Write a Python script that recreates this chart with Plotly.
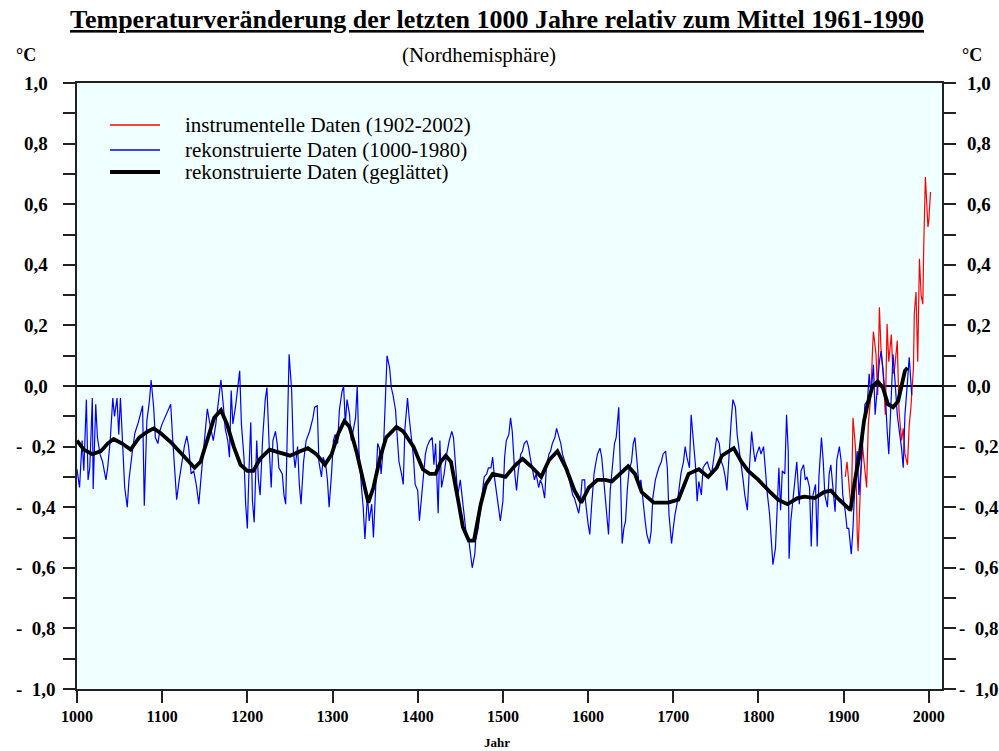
import plotly.graph_objects as go

# Rekonstruierte Temperaturanomalien (Nordhemisphäre), 1000-1980
recon_years = [
    1000, 1003, 1006, 1008, 1011, 1013, 1015, 1018, 1019, 1022, 1024, 1027, 1030, 1034, 1036, 1039,
    1042, 1044, 1047, 1049, 1051, 1054, 1056, 1059, 1061, 1065, 1068, 1072, 1075, 1077, 1079, 1082,
    1085, 1087, 1090, 1092, 1095, 1097, 1100, 1104, 1108, 1110, 1112, 1115, 1117, 1120, 1122, 1126,
    1129, 1131, 1134, 1137, 1140, 1143, 1146, 1150, 1153, 1156, 1160, 1163, 1167, 1169, 1172, 1174,
    1177, 1179, 1181, 1183, 1186, 1188, 1191, 1193, 1196, 1198, 1200, 1202, 1204, 1206, 1208, 1211,
    1213, 1215, 1218, 1221, 1223, 1226, 1228, 1230, 1233, 1235, 1237, 1241, 1243, 1245, 1248, 1249,
    1252, 1254, 1256, 1259, 1261, 1263, 1266, 1269, 1273, 1277, 1279, 1282, 1284, 1287, 1289, 1292,
    1294, 1296, 1299, 1301, 1303, 1306, 1308, 1311, 1313, 1315, 1317, 1320, 1322, 1324, 1327, 1329,
    1331, 1334, 1336, 1338, 1341, 1343, 1346, 1348, 1350, 1353, 1355, 1357, 1360, 1362, 1364, 1367,
    1369, 1371, 1374, 1376, 1378, 1381, 1383, 1385, 1388, 1390, 1392, 1395, 1397, 1400, 1402, 1404,
    1407, 1409, 1411, 1414, 1417, 1419, 1421, 1424, 1426, 1428, 1431, 1434, 1437, 1440, 1442, 1445,
    1447, 1450, 1453, 1455, 1457, 1460, 1462, 1464, 1467, 1468, 1471, 1473, 1475, 1478, 1481, 1483,
    1486, 1488, 1490, 1493, 1495, 1497, 1500, 1502, 1504, 1507, 1509, 1511, 1514, 1516, 1518, 1521,
    1523, 1525, 1528, 1530, 1532, 1535, 1537, 1539, 1542, 1544, 1546, 1549, 1551, 1554, 1556, 1558,
    1561, 1563, 1565, 1568, 1570, 1572, 1575, 1577, 1579, 1582, 1584, 1586, 1589, 1591, 1593, 1596,
    1597, 1600, 1602, 1604, 1607, 1609, 1611, 1614, 1616, 1619, 1622, 1624, 1626, 1629, 1631, 1633,
    1636, 1638, 1640, 1642, 1644, 1646, 1648, 1651, 1653, 1655, 1658, 1660, 1662, 1665, 1667, 1669,
    1672, 1674, 1676, 1679, 1681, 1683, 1686, 1688, 1691, 1693, 1695, 1698, 1700, 1702, 1705, 1707,
    1709, 1712, 1714, 1716, 1719, 1721, 1723, 1726, 1728, 1730, 1733, 1735, 1737, 1740, 1742, 1745,
    1747, 1749, 1751, 1754, 1756, 1759, 1761, 1763, 1765, 1768, 1770, 1773, 1775, 1777, 1780, 1782,
    1784, 1787, 1789, 1792, 1794, 1796, 1798, 1801, 1803, 1806, 1808, 1810, 1813, 1815, 1817, 1820,
    1822, 1824, 1826, 1828, 1831, 1833, 1835, 1836, 1838, 1841, 1843, 1845, 1848, 1850, 1853, 1855,
    1857, 1860, 1862, 1864, 1867, 1869, 1871, 1874, 1876, 1878, 1881, 1883, 1885, 1888, 1890, 1892,
    1895, 1897, 1899, 1902, 1904, 1906, 1909, 1911, 1914, 1916, 1918, 1921, 1923, 1925, 1928, 1930,
    1932, 1935, 1937, 1939, 1942, 1944, 1946, 1949, 1951, 1953, 1956, 1958, 1960, 1963, 1965, 1968,
    1970, 1972, 1975, 1977, 1980,
]
recon_values = [
    -0.275, -0.335, -0.18, -0.28, -0.045, -0.31, -0.27, -0.04, -0.34, -0.06, -0.17, -0.225, -0.25, -0.31, -0.27, -0.18,
    -0.04, -0.10, -0.04, -0.16, -0.04, -0.25, -0.335, -0.40, -0.31, -0.215, -0.155, -0.12, -0.09, -0.065, -0.395, -0.115,
    -0.05, 0.02, -0.07, -0.17, -0.19, -0.15, -0.125, -0.10, -0.07, -0.06, -0.16, -0.28, -0.375, -0.31, -0.27, -0.20,
    -0.165, -0.20, -0.29, -0.28, -0.325, -0.39, -0.29, -0.17, -0.075, -0.125, -0.18, -0.125, -0.015, 0.02, -0.07, -0.14,
    -0.18, -0.235, -0.015, -0.125, -0.07, -0.015, 0.05, -0.125, -0.235, -0.39, -0.47, -0.27, -0.12, -0.38, -0.45, -0.18,
    -0.31, -0.36, -0.17, -0.045, -0.005, -0.225, -0.335, -0.18, -0.15, -0.19, -0.27, -0.29, -0.36, -0.39, 0.03, 0.105,
    -0.015, -0.215, -0.27, -0.20, -0.325, -0.39, -0.25, -0.18, -0.15, -0.105, -0.07, -0.065, -0.25, -0.30, -0.235, -0.26,
    -0.31, -0.40, -0.28, -0.18, -0.16, -0.19, -0.08, -0.02, 0.0, -0.125, -0.045, -0.095, -0.18, -0.15, -0.105, 0.0,
    -0.215, -0.335, -0.40, -0.505, -0.36, -0.445, -0.39, -0.50, -0.35, -0.19, -0.205, -0.29, -0.19, -0.07, 0.10, 0.06,
    -0.005, -0.03, -0.08, -0.17, -0.25, -0.29, -0.325, -0.14, -0.04, -0.105, -0.16, -0.235, -0.325, -0.345, -0.445, -0.38,
    -0.27, -0.225, -0.20, -0.18, -0.17, -0.26, -0.19, -0.42, -0.18, -0.335, -0.29, -0.225, -0.18, -0.15, -0.17, -0.27,
    -0.36, -0.31, -0.38, -0.445, -0.49, -0.51, -0.555, -0.60, -0.555, -0.51, -0.47, -0.42, -0.37, -0.30, -0.29, -0.27,
    -0.27, -0.235, -0.30, -0.36, -0.40, -0.445, -0.38, -0.235, -0.18, -0.16, -0.105, -0.15, -0.29, -0.345, -0.28, -0.225,
    -0.215, -0.19, -0.18, -0.20, -0.235, -0.28, -0.31, -0.29, -0.335, -0.31, -0.325, -0.37, -0.27, -0.225, -0.215, -0.19,
    -0.17, -0.14, -0.16, -0.19, -0.225, -0.245, -0.27, -0.30, -0.325, -0.36, -0.37, -0.39, -0.42, -0.38, -0.31, -0.31,
    -0.38, -0.455, -0.49, -0.40, -0.29, -0.255, -0.225, -0.205, -0.235, -0.33, -0.42, -0.49, -0.345, -0.26, -0.19, -0.17,
    -0.07, -0.29, -0.52, -0.47, -0.445, -0.345, -0.28, -0.25, -0.19, -0.17, -0.26, -0.335, -0.31, -0.40, -0.445, -0.49,
    -0.52, -0.48, -0.37, -0.31, -0.29, -0.27, -0.25, -0.225, -0.215, -0.27, -0.425, -0.52, -0.47, -0.425, -0.38, -0.335,
    -0.29, -0.25, -0.20, -0.235, -0.27, -0.095, -0.16, -0.26, -0.38, -0.315, -0.36, -0.27, -0.26, -0.25, -0.27, -0.29,
    -0.25, -0.215, -0.17, -0.19, -0.245, -0.27, -0.30, -0.345, -0.235, -0.115, -0.045, -0.07, -0.16, -0.20, -0.27, -0.31,
    -0.36, -0.41, -0.29, -0.15, -0.205, -0.25, -0.225, -0.20, -0.225, -0.20, -0.27, -0.345, -0.42, -0.52, -0.59, -0.535,
    -0.37, -0.27, -0.41, -0.28, -0.29, -0.095, -0.215, -0.57, -0.445, -0.36, -0.30, -0.25, -0.39, -0.28, -0.26, -0.31,
    -0.30, -0.335, -0.53, -0.36, -0.325, -0.53, -0.30, -0.17, -0.245, -0.36, -0.40, -0.29, -0.26, -0.36, -0.415, -0.245,
    -0.20, -0.245, -0.36, -0.415, -0.47, -0.47, -0.555, -0.47, -0.27, -0.215, -0.36, -0.25, -0.17, -0.06, -0.05, 0.04,
    -0.03, 0.07, -0.095, -0.015, 0.08, 0.115, 0.06, -0.03, -0.14, -0.225, -0.03, 0.105, 0.03, -0.095, -0.14, -0.205,
    -0.27, -0.095, 0.015, 0.095, -0.03,
]

# Instrumentelle Messwerte, 1902-2002
instr_years = [
    1902, 1904, 1906, 1909, 1911, 1914, 1916, 1917, 1920, 1922, 1924, 1927, 1929, 1932, 1934, 1935,
    1938, 1940, 1942, 1944, 1946, 1949, 1951, 1953, 1956, 1958, 1960, 1963, 1965, 1968, 1970, 1972,
    1975, 1977, 1979, 1982, 1983, 1985, 1987, 1989, 1991, 1993, 1994, 1996, 1999, 2000, 2002,
]
instr_values = [
    -0.30, -0.25, -0.315, -0.415, -0.105, -0.205, -0.49, -0.545, -0.315, -0.19, -0.25, -0.335, -0.125, -0.03, 0.125, 0.18,
    0.105, -0.03, 0.26, 0.115, 0.06, -0.095, 0.205, 0.08, 0.17, 0.04, 0.06, 0.15, -0.08, -0.18, -0.14, -0.225,
    -0.26, -0.13, -0.07, 0.06, 0.24, 0.31, 0.08, 0.42, 0.30, 0.27, 0.455, 0.69, 0.525, 0.545, 0.64,
]

# Geglättete Rekonstruktion
smooth_years = [
    1000, 1008, 1018, 1028, 1036, 1043, 1053, 1063, 1073, 1083, 1090, 1098, 1110, 1122, 1131, 1138,
    1145, 1153, 1161, 1169, 1176, 1184, 1192, 1200, 1207, 1215, 1226, 1238, 1250, 1262, 1271, 1281,
    1291, 1299, 1307, 1314, 1320, 1328, 1336, 1342, 1348, 1356, 1363, 1375, 1383, 1395, 1406, 1414,
    1421, 1427, 1433, 1439, 1447, 1453, 1460, 1466, 1474, 1480, 1488, 1503, 1515, 1523, 1533, 1545,
    1554, 1564, 1574, 1584, 1592, 1601, 1611, 1620, 1628, 1638, 1647, 1655, 1663, 1677, 1694, 1706,
    1718, 1730, 1741, 1751, 1757, 1771, 1780, 1788, 1800, 1812, 1823, 1834, 1846, 1854, 1866, 1877,
    1885, 1893, 1901, 1908, 1913, 1919, 1924, 1929, 1934, 1940, 1946, 1952, 1958, 1964, 1968, 1972,
    1975,
]
smooth_values = [
    -0.18, -0.21, -0.225, -0.215, -0.19, -0.175, -0.19, -0.21, -0.17, -0.15, -0.14, -0.155, -0.185, -0.22, -0.25, -0.27,
    -0.25, -0.18, -0.105, -0.08, -0.125, -0.20, -0.26, -0.28, -0.28, -0.24, -0.21, -0.22, -0.23, -0.215, -0.205, -0.225,
    -0.26, -0.225, -0.155, -0.115, -0.135, -0.215, -0.31, -0.385, -0.335, -0.235, -0.17, -0.135, -0.15, -0.20, -0.275, -0.29,
    -0.29, -0.25, -0.23, -0.25, -0.37, -0.465, -0.51, -0.51, -0.39, -0.325, -0.29, -0.30, -0.26, -0.24, -0.265, -0.30,
    -0.245, -0.215, -0.27, -0.345, -0.385, -0.335, -0.31, -0.31, -0.315, -0.29, -0.265, -0.29, -0.35, -0.385, -0.385, -0.375,
    -0.29, -0.275, -0.30, -0.27, -0.23, -0.205, -0.25, -0.28, -0.31, -0.345, -0.375, -0.39, -0.37, -0.365, -0.37, -0.35,
    -0.345, -0.37, -0.39, -0.41, -0.315, -0.225, -0.115, -0.05, 0.0, 0.015, -0.005, -0.06, -0.07, -0.05, 0.0, 0.05,
    0.06,
]

y_tick_vals = [1.0, 0.8, 0.6, 0.4, 0.2, 0.0, -0.2, -0.4, -0.6, -0.8, -1.0]
y_tick_text = ["1,0", "0,8", "0,6", "0,4", "0,2", "0,0",
               "-\u00a0\u00a00,2", "-\u00a0\u00a00,4", "-\u00a0\u00a00,6", "-\u00a0\u00a00,8", "-\u00a0\u00a01,0"]
y_minor_vals = [-0.9, -0.7, -0.5, -0.3, -0.1, 0.1, 0.3, 0.5, 0.7, 0.9]
x_tick_vals = list(range(1000, 2001, 100))

legend_labels = [
    "instrumentelle Daten (1902-2002)",
    "rekonstruierte Daten (1000-1980)",
    "rekonstruierte Daten (geglättet)",
]

SERIF = "Liberation Serif, Times New Roman, serif"
AXIS_COLOR = "#222222"
W, H = 999, 751
L, R, T, B = 77, 57, 83, 62
pw, ph = W - L - R, H - T - B


def px_to_paper_x(px):
    return (px - L) / pw


def px_to_paper_y(py):
    return (H - B - py) / ph


fig = go.Figure()
fig.add_trace(go.Scatter(x=instr_years, y=instr_values, mode="lines",
                         line=dict(color="#ff0000", width=1.2), showlegend=False))
fig.add_trace(go.Scatter(x=recon_years, y=recon_values, mode="lines",
                         line=dict(color="#0000ff", width=1.2), showlegend=False))
fig.add_trace(go.Scatter(x=smooth_years, y=smooth_values, mode="lines",
                         line=dict(color="#000000", width=3.8), showlegend=False))
# empty trace so the right-hand axis is drawn
fig.add_trace(go.Scatter(x=[None], y=[None], yaxis="y2", showlegend=False, hoverinfo="skip"))

y_common = dict(
    range=[-1, 1],
    tickmode="array", tickvals=y_tick_vals, showticklabels=False,
    ticks="outside", ticklen=12, tickwidth=2, tickcolor=AXIS_COLOR,
    minor=dict(ticks="outside", ticklen=12, tickwidth=2, tickcolor=AXIS_COLOR,
               tickmode="array", tickvals=y_minor_vals),
    showline=True, linecolor=AXIS_COLOR, linewidth=2,
    showgrid=False,
    fixedrange=True,
)

fig.update_layout(
    width=W, height=H,
    margin=dict(l=L, r=R, t=T, b=B),
    paper_bgcolor="white",
    plot_bgcolor="#f0ffff",
    showlegend=False,
    xaxis=dict(
        range=[1000, 2015.5],
        tickmode="array", tickvals=x_tick_vals, ticktext=[str(v) for v in x_tick_vals],
        ticks="outside", ticklen=12, tickwidth=2, tickcolor=AXIS_COLOR,
        showline=True, linecolor=AXIS_COLOR, linewidth=2, mirror=True,
        showgrid=False, zeroline=False,
        tickfont=dict(family=SERIF, size=16, color="black", weight="bold"),
    ),
    yaxis=dict(**y_common, side="left", zeroline=True, zerolinecolor="black", zerolinewidth=1.5),
    yaxis2=dict(**y_common, side="right", overlaying="y", anchor="x", zeroline=False),
)

# y tick labels on both sides, centred in the margins
for val, txt in zip(y_tick_vals, y_tick_text):
    for px in (36, 979):
        fig.add_annotation(text=f"<b>{txt}</b>", xref="paper", yref="y",
                           x=px_to_paper_x(px), y=val, showarrow=False,
                           xanchor="center", yanchor="middle",
                           font=dict(family=SERIF, size=19, color="black"))

# headings and unit labels
texts = [
    ("<b><u>Temperaturveränderung der letzten 1000 Jahre relativ zum Mittel 1961-1990</u></b>", 497, 19, 26),
    ("(Nordhemisphäre)", 479, 55, 21),
    ("<b>°C</b>", 26, 55, 18),
    ("<b>°C</b>", 972, 55, 18),
    ("<b>Jahr</b>", 497, 742, 13),
]
for txt, px, py, size in texts:
    fig.add_annotation(text=txt, xref="paper", yref="paper",
                       x=px_to_paper_x(px), y=px_to_paper_y(py),
                       showarrow=False, xanchor="center", yanchor="middle",
                       font=dict(family=SERIF, size=size, color="black"))

# legend drawn as sample lines with labels
legend_styles = [("#ff0000", 1.5, 125), ("#0000ff", 1.5, 150), ("#000000", 3.8, 172)]
for (color, width, py), label in zip(legend_styles, legend_labels):
    yy = px_to_paper_y(py)
    fig.add_shape(type="line", xref="paper", yref="paper",
                  x0=px_to_paper_x(110), x1=px_to_paper_x(160), y0=yy, y1=yy,
                  line=dict(color=color, width=width))
    fig.add_annotation(text=label, xref="paper", yref="paper",
                       x=px_to_paper_x(183), y=yy, xanchor="left", yanchor="middle",
                       showarrow=False,
                       font=dict(family=SERIF, size=21, color="black"))

fig.write_html("out.html")
